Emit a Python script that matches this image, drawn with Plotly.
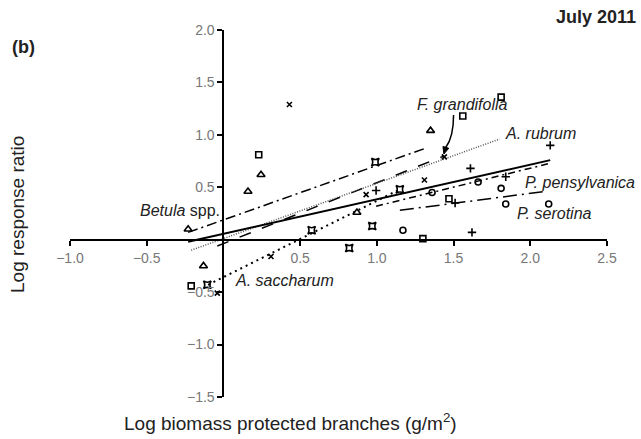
import plotly.graph_objects as go

# ---- data ----
species = ["Betula spp.", "F. grandifolia", "A. rubrum", "A. saccharum", "P. pensylvanica", "P. serotina"]
symbols = ["triangle-up-open", "x-thin", "square-open", "star-square-open", "cross-thin", "circle-open"]
sizes = [7, 5, 6, 7, 6, 6]

betula_x = [-0.23, -0.13, 0.16, 0.245, 0.87, 1.35]
betula_y = [0.10, -0.25, 0.46, 0.62, 0.26, 1.04]
fagus_x = [-0.04, 0.31, 0.43, 0.93, 1.31, 1.44]
fagus_y = [-0.51, -0.16, 1.29, 0.43, 0.57, 0.79]
rubrum_x = [-0.21, 0.23, 1.30, 1.47, 1.56, 1.81]
rubrum_y = [-0.44, 0.81, 0.01, 0.39, 1.18, 1.36]
sacch_x = [-0.105, 0.575, 0.82, 0.97, 0.99, 1.15]
sacch_y = [-0.43, 0.09, -0.08, 0.13, 0.74, 0.48]
pens_x = [0.995, 1.51, 1.61, 1.62, 1.84, 2.13]
pens_y = [0.47, 0.35, 0.68, 0.07, 0.60, 0.90]
sero_x = [1.17, 1.36, 1.66, 1.81, 1.84, 2.12]
sero_y = [0.09, 0.45, 0.55, 0.49, 0.34, 0.34]

points_x = [betula_x, fagus_x, rubrum_x, sacch_x, pens_x, sero_x]
points_y = [betula_y, fagus_y, rubrum_y, sacch_y, pens_y, sero_y]

# regression fits: intercept, slope, x-range
fit_names = ["Betula spp.", "F. grandifolia", "A. rubrum", "A. saccharum", "P. pensylvanica", "P. serotina", "All"]
fit_intercept = [0.189, -0.037, 0.011, -0.357, -0.04, 0.062, 0.056]
fit_slope = [0.519, 0.581, 0.527, 0.728, 0.361, 0.19, 0.33]
fit_xmin = [-0.23, -0.04, -0.21, -0.10, 0.995, 1.15, -0.23]
fit_xmax = [1.33, 1.44, 1.80, 1.15, 2.13, 2.10, 2.13]
fit_dash = ["10px,4px,2px,4px", "12px,12px", "1px,1.5px", "2px,4px", "7px,4px,2px,4px", "14px,5px,2px,5px", "solid"]
fit_width = [1.5, 1.5, 1.5, 2, 1.5, 1.5, 2]
fit_color = ["black", "black", "#555555", "black", "black", "black", "black"]

xticks = [-1.0, -0.5, 0.5, 1.0, 1.5, 2.0, 2.5]
yticks = [-1.5, -1.0, -0.5, 0.5, 1.0, 1.5, 2.0]

FONT = "Liberation Sans, Arial, Helvetica, sans-serif"

fig = go.Figure()

for i, name in enumerate(fit_names):
    xs = [fit_xmin[i], fit_xmax[i]]
    ys = [fit_intercept[i] + fit_slope[i] * x for x in xs]
    fig.add_trace(go.Scatter(x=xs, y=ys, mode="lines", name=name + " fit",
                             line=dict(color=fit_color[i], width=fit_width[i], dash=fit_dash[i]),
                             showlegend=False, hoverinfo="skip"))

for i, name in enumerate(species):
    fig.add_trace(go.Scatter(x=points_x[i], y=points_y[i], mode="markers", name=name,
                             marker=dict(symbol=symbols[i], size=sizes[i], color="black",
                                         line=dict(color="black", width=1.6)),
                             showlegend=False, cliponaxis=False))

fig.update_layout(
    width=641, height=439,
    margin=dict(l=70, r=34, t=30, b=42),
    paper_bgcolor="white", plot_bgcolor="white",
    font=dict(family=FONT, color="black"),
    xaxis=dict(range=[-1.0, 2.5], anchor="free", position=1.5 / 3.5,
               showline=True, linecolor="black", linewidth=2,
               ticks="outside", ticklen=5, tickwidth=1.5, tickcolor="black",
               tickvals=xticks, tickformat=".1f",
               tickfont=dict(size=14, color="#777777", family=FONT),
               showgrid=False, zeroline=False),
    yaxis=dict(range=[-1.5, 2.0], anchor="free", position=1.0 / 3.5,
               showline=True, linecolor="black", linewidth=2,
               ticks="outside", ticklen=5, tickwidth=1.5, tickcolor="black",
               tickvals=yticks, tickformat=".1f",
               tickfont=dict(size=14, color="#777777", family=FONT),
               showgrid=False, zeroline=False),
)

# species labels
labels = [
    ("<i>Betula</i> spp.", -0.01, 0.28, "right"),
    ("<i>F. grandifolia</i>", 1.25, 1.29, "left"),
    ("<i>A. rubrum</i>", 1.82, 1.01, "left"),
    ("<i>A. saccharum</i>", 0.06, -0.385, "left"),
    ("<i>P. pensylvanica</i>", 1.95, 0.55, "left"),
    ("<i>P. serotina</i>", 1.90, 0.25, "left"),
]
for txt, x, y, anc in labels:
    fig.add_annotation(x=x, y=y, xref="x", yref="y", text=txt, showarrow=False,
                       xanchor=anc, yanchor="middle",
                       font=dict(size=16, color="#222222", family=FONT))

# curved arrow for F. grandifolia (shaft + filled head)
fig.add_shape(type="path", xref="x", yref="y",
              path="M 1.50,1.19 Q 1.50,0.98 1.449,0.88",
              line=dict(color="black", width=1.5))
fig.add_shape(type="path", xref="x", yref="y",
              path="M 1.4368,0.8170 L 1.4687,0.8722 L 1.4309,0.8894 Z",
              fillcolor="black", line=dict(color="black", width=1))

# axis titles and panel text
fig.add_annotation(x=0.4115, y=-0.068, xref="paper", yref="paper",
                   text="Log biomass protected branches (g/m<sup>2</sup>)", showarrow=False,
                   xanchor="center", yanchor="middle",
                   font=dict(size=19, color="#222222", family=FONT))
fig.add_annotation(x=-0.0968, y=0.496, xref="paper", yref="paper",
                   text="Log response ratio", showarrow=False, textangle=-90,
                   xanchor="center", yanchor="middle",
                   font=dict(size=19, color="#222222", family=FONT))
fig.add_annotation(x=1.0577, y=1.035, xref="paper", yref="paper",
                   text="<b>July 2011</b>", showarrow=False,
                   xanchor="right", yanchor="middle",
                   font=dict(size=18, color="#222222", family=FONT))
fig.add_annotation(x=-0.1117, y=0.954, xref="paper", yref="paper",
                   text="<b>(b)</b>", showarrow=False,
                   xanchor="left", yanchor="middle",
                   font=dict(size=18, color="#222222", family=FONT))

fig.write_html("out.html")
